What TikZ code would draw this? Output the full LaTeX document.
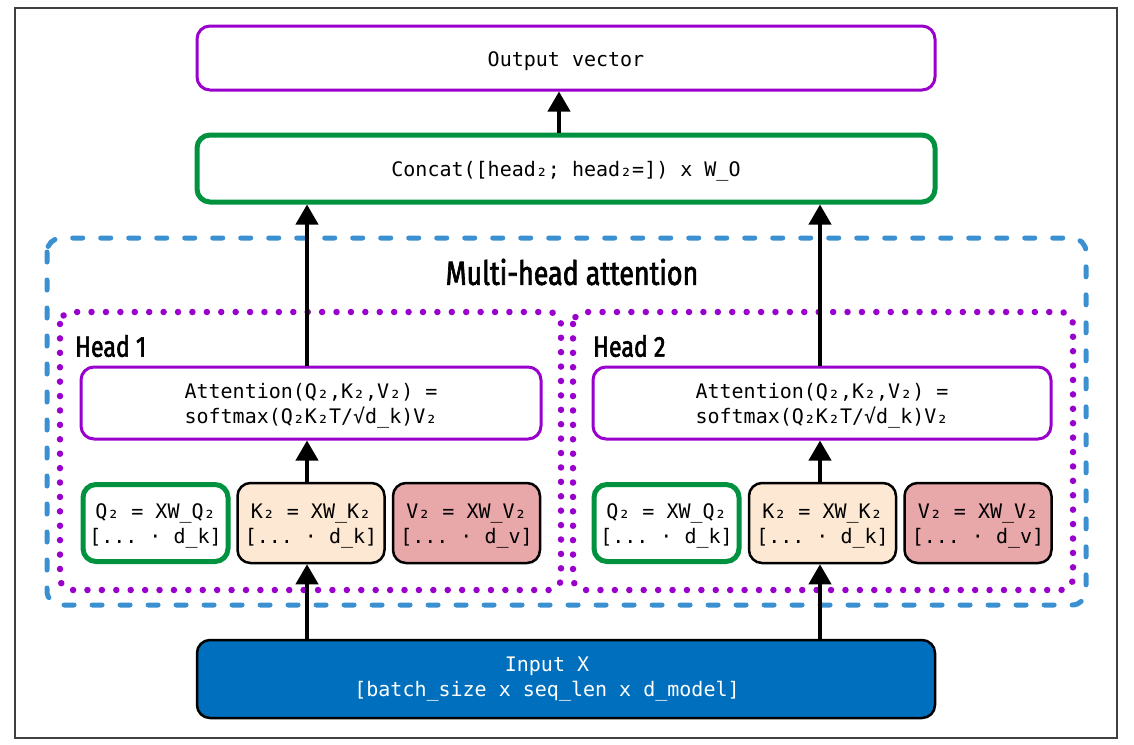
\documentclass[tikz,border=0pt]{standalone}
\usepackage{fontspec}
\setmainfont{Fira Sans}
\setmonofont{DejaVu Sans Mono}
\newfontfamily\condsans[FakeStretch=0.8,FakeBold=2]{Fira Sans}
\usetikzlibrary{arrows.meta}
\definecolor{mypurple}{HTML}{9A00CC}
\definecolor{mygreen}{HTML}{00923F}
\definecolor{myblue}{HTML}{3A90D0}
\definecolor{inblue}{HTML}{0070BE}
\definecolor{kfill}{HTML}{FDE9D3}
\definecolor{vfill}{HTML}{E8A7A9}
\newcommand{\tp}{\rule{0pt}{21pt}}
\tikzset{
  box/.style={rectangle, rounded corners=13pt, align=center, inner sep=0pt},
  monotext/.style={font=\ttfamily\fontsize{20}{25}\selectfont},
  purplebox/.style={box, draw=mypurple, line width=3pt},
  greenbox/.style={box, draw=mygreen, line width=5pt},
  qkvbox/.style={box, draw=black, line width=2.5pt, minimum width=147pt, minimum height=80pt},
  arr/.style={line width=4pt, -{Triangle[width=22pt,length=20pt]}},
  headframe/.style={draw=mypurple, line width=6.5pt, line cap=round, dash pattern=on 0.01pt off 14.4pt, rounded corners=12pt},
  mhframe/.style={draw=myblue, line width=5pt, line cap=round, dash pattern=on 10pt off 18pt, rounded corners=14pt},
  lbl/.style={font=\condsans\fontsize{29}{31}\selectfont, inner sep=0pt},
}
\begin{document}
\begin{tikzpicture}[x=1pt,y=-1pt]
\useasboundingbox (0,0) rectangle (1134,744);
\draw[black!75, line width=1.5pt] (15,8) rectangle (1117,738);

\draw[mhframe] (47,238) rectangle (1086,605);
\node[lbl, font=\condsans\fontsize{33.5}{35}\selectfont] (mhtitle) at (572,272) {Multi-head attention};
\draw[headframe] (60,312) rectangle (561,590);
\draw[headframe] (573,312) rectangle (1073,590);
\node[lbl, anchor=west] (h1lbl) at (75,346) {Head 1};
\node[lbl, anchor=west] (h2lbl) at (593,346) {Head 2};

\node[purplebox, monotext, minimum width=738pt, minimum height=64pt] (out) at (566,58) {\tp Output vector};
\node[greenbox, monotext, minimum width=738pt, minimum height=67pt] (cat) at (566,168.5) {\tp Concat([head₂; head₂=]) x W\_O};
\node[box, draw=black, line width=2.5pt, fill=inblue, minimum width=738pt, minimum height=78pt] (inp) at (566,679) {};
\node[text=white, monotext, align=center, inner sep=0pt] (inptext) at (547,679) {Input X\\{[}batch\_size x seq\_len x d\_model]};

\node[purplebox, monotext, minimum width=460pt, minimum height=72pt] (att1) at (311,403) {\tp Attention(Q₂,K₂,V₂) =\\softmax(Q₂K₂T/√d\_k)V₂};
\node[purplebox, monotext, minimum width=458pt, minimum height=72pt] (att2) at (822,403) {\tp Attention(Q₂,K₂,V₂) =\\softmax(Q₂K₂T/√d\_k)V₂};

\node[greenbox, monotext, minimum width=145pt, minimum height=77pt] (q1) at (155.5,523) {\tp Q₂ = XW\_Q₂\\{[}... · d\_k]};
\node[qkvbox, fill=kfill, monotext] (k1) at (311,523) {\tp K₂ = XW\_K₂\\{[}... · d\_k]};
\node[qkvbox, fill=vfill, monotext] (v1) at (466.5,523) {\tp V₂ = XW\_V₂\\{[}... · d\_v]};
\node[greenbox, monotext, minimum width=145pt, minimum height=77pt] (q2) at (666.5,523) {\tp Q₂ = XW\_Q₂\\{[}... · d\_k]};
\node[qkvbox, fill=kfill, monotext] (k2) at (822.5,523) {\tp K₂ = XW\_K₂\\{[}... · d\_k]};
\node[qkvbox, fill=vfill, monotext] (v2) at (978,523) {\tp V₂ = XW\_V₂\\{[}... · d\_v]};

\coordinate (c1) at (307,0);
\coordinate (c2) at (820,0);
\coordinate (c0) at (559,0);
\draw[arr] (cat.north -| c0) -- (out.south -| c0);
\draw[arr] (att1.north -| c1) -- (cat.south -| c1);
\draw[arr] (att2.north -| c2) -- (cat.south -| c2);
\draw[arr] (k1.north -| c1) -- (att1.south -| c1);
\draw[arr] (k2.north -| c2) -- (att2.south -| c2);
\draw[arr] (inp.north -| c1) -- (k1.south -| c1);
\draw[arr] (inp.north -| c2) -- (k2.south -| c2);
\end{tikzpicture}
\end{document}
